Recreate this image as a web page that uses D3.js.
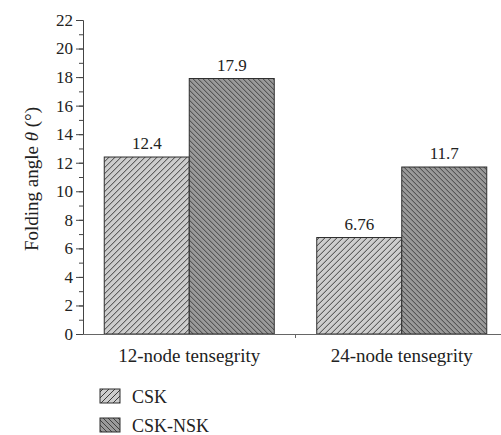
<!DOCTYPE html>
<html>
<head>
<meta charset="utf-8">
<script src="https://cdn.jsdelivr.net/npm/d3@7"></script>
<style>
  html, body { margin: 0; padding: 0; background: #fff; }
  svg { display: block; }
</style>
</head>
<body>
<svg id="chart" width="501" height="435"></svg>
<script>
// Folding angle of the two tensegrity models, per method
const categories = ["12-node tensegrity", "24-node tensegrity"];
const seriesNames = ["CSK", "CSK-NSK"];
const cskValues = [12.4, 6.76];
const cskNskValues = [17.9, 11.7];
const yTicks = [0, 2, 4, 6, 8, 10, 12, 14, 16, 18, 20, 22];

const FONT = '"Liberation Serif"';
const svg = d3.select("#chart");
const W = 501, H = 435;
const margin = { left: 83, top: 20, bottom: 101 };
const plotBottom = H - margin.bottom; // 334

// hatch patterns
const defs = svg.append("defs");
function hatch(id, size, bg, forward, sw) {
  const p = defs.append("pattern")
    .attr("id", id)
    .attr("patternUnits", "userSpaceOnUse")
    .attr("width", size).attr("height", size);
  p.append("rect").attr("width", size).attr("height", size).attr("fill", bg);
  const s = size;
  const d = forward
    ? `M0,${s} L${s},0 M${-1},1 L1,${-1} M${s - 1},${s + 1} L${s + 1},${s - 1}`
    : `M0,0 L${s},${s} M${-1},${s - 1} L1,${s + 1} M${s - 1},${-1} L${s + 1},1`;
  p.append("path").attr("d", d).attr("stroke", "#2a2a2a").attr("stroke-width", sw);
}
hatch("hatch-csk", 6, "#cdcdcd", true, 0.9);
hatch("hatch-nsk", 5, "#9a9a9a", false, 0.8);
const fills = ["url(#hatch-csk)", "url(#hatch-nsk)"];

const y = d3.scaleLinear().domain([0, 22]).range([plotBottom, margin.top]);
const x0 = d3.scaleBand().domain(categories)
  .range([margin.left, 508])
  .paddingInner(0.2).paddingOuter(0.1);
const x1 = d3.scaleBand().domain(seriesNames).range([0, x0.bandwidth()]);

const rows = categories.map((c, i) => ({ cat: c, vals: [cskValues[i], cskNskValues[i]] }));

// bars
const groups = svg.append("g").selectAll("g").data(rows).join("g")
  .attr("transform", d => `translate(${x0(d.cat)},0)`);
groups.selectAll("rect").data(d => d.vals.map((v, j) => ({ v, j })))
  .join("rect")
  .attr("x", d => x1(seriesNames[d.j]))
  .attr("y", d => y(d.v))
  .attr("width", x1.bandwidth())
  .attr("height", d => y(0) - y(d.v))
  .attr("fill", d => fills[d.j])
  .attr("stroke", "#2e2e2e")
  .attr("stroke-width", 1);
groups.selectAll("text.val").data(d => d.vals.map((v, j) => ({ v, j })))
  .join("text")
  .attr("class", "val")
  .attr("x", d => x1(seriesNames[d.j]) + x1.bandwidth() / 2)
  .attr("y", d => y(d.v) - 8)
  .attr("text-anchor", "middle")
  .attr("font-size", 17)
  .style("font-family", FONT)
  .attr("fill", "#222")
  .text(d => String(d.v));

// y axis: minor ticks every unit, labels every 2
const yMinor = d3.axisLeft(y).tickValues(d3.range(0, 23, 1)).tickSize(4).tickFormat("");
const gMinor = svg.append("g").attr("transform", `translate(${margin.left},0)`).call(yMinor);
gMinor.select(".domain").remove();
gMinor.selectAll("line").attr("stroke", "#444");
const yAxis = d3.axisLeft(y).tickValues(yTicks).tickSize(7).tickSizeOuter(7).tickPadding(3);
const gy = svg.append("g").attr("transform", `translate(${margin.left},0)`).call(yAxis);
gy.attr("font-family", null).attr("font-size", null);
gy.select(".domain").attr("stroke", "#444");
gy.selectAll("line").attr("stroke", "#444");
gy.selectAll("text")
  .attr("font-size", 17)
  .style("font-family", FONT)
  .attr("fill", "#222");

// x axis
const gx = svg.append("g");
gx.append("line")
  .attr("x1", margin.left).attr("x2", W)
  .attr("y1", plotBottom + 0.5).attr("y2", plotBottom + 0.5)
  .attr("stroke", "#666").attr("stroke-width", 1.2);
const sep = x0(categories[1]) - x0.step() * x0.paddingInner() / 2;
gx.append("line")
  .attr("x1", sep).attr("x2", sep)
  .attr("y1", plotBottom).attr("y2", plotBottom + 4)
  .attr("stroke", "#666");
gx.selectAll("text").data(categories).join("text")
  .attr("x", d => x0(d) + x0.bandwidth() / 2)
  .attr("y", plotBottom + 28)
  .attr("text-anchor", "middle")
  .attr("font-size", 19)
  .style("font-family", FONT)
  .attr("fill", "#222")
  .text(d => d);

// y title
const title = svg.append("text")
  .attr("transform", `translate(38,179) rotate(-90)`)
  .attr("text-anchor", "middle")
  .attr("font-size", 19)
  .style("font-family", FONT)
  .attr("fill", "#222");
title.append("tspan").text("Folding angle ");
title.append("tspan").style("font-style", "italic").text("θ");
title.append("tspan").text(" (°)");

// legend
const legend = svg.append("g");
seriesNames.forEach((name, i) => {
  const ly = 389 + i * 29;
  legend.append("rect")
    .attr("x", 100).attr("y", ly)
    .attr("width", 20).attr("height", 14)
    .attr("fill", fills[i]).attr("stroke", "#2e2e2e");
  legend.append("text")
    .attr("x", 132).attr("y", ly + 14)
    .attr("font-size", 18)
    .style("font-family", FONT)
    .attr("fill", "#222")
    .text(name);
});
</script>
</body>
</html>
